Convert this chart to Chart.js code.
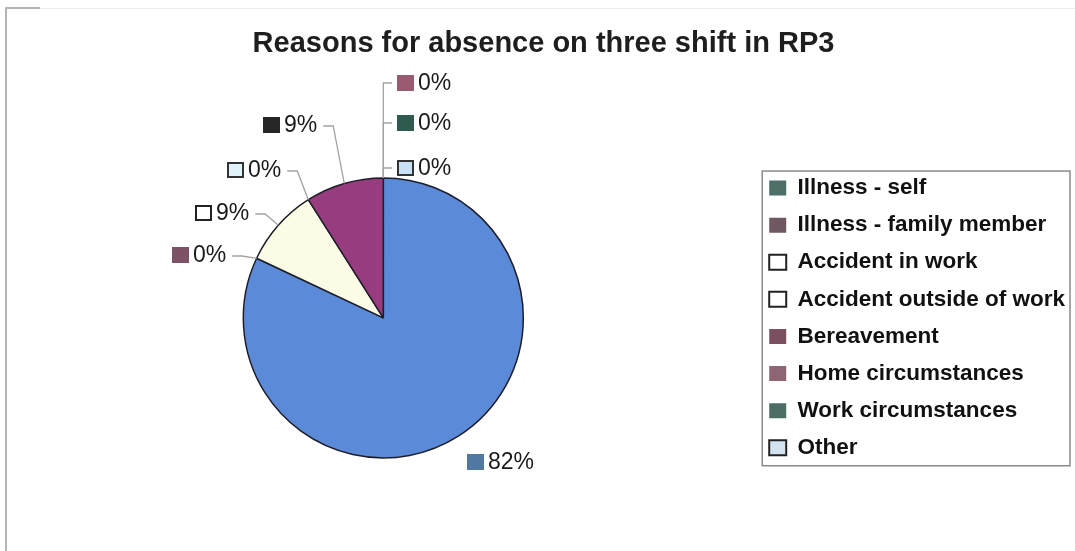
<!DOCTYPE html>
<html>
<head>
<meta charset="utf-8">
<title>Reasons for absence on three shift in RP3</title>
<script src="https://cdn.jsdelivr.net/npm/chart.js@4.4.1/dist/chart.umd.min.js"></script>
<style>
  html, body { margin: 0; padding: 0; background: #fff; }
  #wrap { width: 1075px; height: 551px; position: relative; }
</style>
</head>
<body>
<div id="wrap"><canvas id="absenceChart"></canvas></div>
<script>
/* ===== data ===== */
const reasons = ['Illness - self', 'Illness - family member', 'Accident in work', 'Accident outside of work',
                 'Bereavement', 'Home circumstances', 'Work circumstances', 'Other'];
const shares = [82, 0, 9, 0, 9, 0, 0, 0];   // % of absences

/* ===== styles ===== */
const FONT = 'Arial, "Liberation Sans", sans-serif';
const sliceColors = ['#5b8bd8', '#8e4a73', '#fbfbe6', '#e4f4f8', '#983c80', '#a05a78', '#2e5c52', '#c9def5'];
// legend swatches
const legendFill = ['#4c7068', '#6f5862', '#ffffff', '#ffffff', '#7b4f60', '#8d6575', '#4d6e67', '#d3e3f0'];
const legendEdge = [null, null, '#222', '#222', null, null, null, '#222'];
// swatches in front of the % tags
const tagFill = ['#4f79a0', '#7e5266', '#ffffff', '#e0f3f6', '#262626', '#9a5a72', '#2f5a50', '#cbe1f7'];
const tagEdge = [null, null, '#222', '#333', null, null, null, '#333'];
// tag anchor (swatch left, middle) relative to the pie centre, and which side the leader runs
const tagSpots = [[84, 144], [-211, -63], [-188, -105], [-156, -148], [-120, -193], [14, -235], [14, -195], [14, -150]];
const tagSide  = ['none', 'left', 'left', 'left', 'left', 'right', 'right', 'right'];

/* ===== plugins ===== */
const pageFrame = {
  id: 'pageFrame',
  beforeDraw(chart) {
    const {ctx, width, height} = chart;
    ctx.save();
    ctx.fillStyle = '#fff';
    ctx.fillRect(0, 0, width, height);
    ctx.strokeStyle = '#b4b4b4';
    ctx.lineWidth = 2;
    ctx.beginPath();
    ctx.moveTo(6, height); ctx.lineTo(6, 8); ctx.lineTo(40, 8);
    ctx.stroke();
    ctx.strokeStyle = '#ececec';
    ctx.lineWidth = 1;
    ctx.beginPath();
    ctx.moveTo(40, 8.5); ctx.lineTo(width, 8.5);
    ctx.stroke();
    ctx.restore();
  }
};

const pieTags = {
  id: 'pieTags',
  afterDatasetsDraw(chart) {
    const {ctx} = chart;
    const arcs = chart.getDatasetMeta(0).data;
    const total = shares.reduce((a, b) => a + b, 0);
    ctx.save();
    ctx.font = '23px ' + FONT;
    ctx.textBaseline = 'middle';
    arcs.forEach((arc, i) => {
      const {x, y, startAngle, endAngle, outerRadius} =
        arc.getProps(['x', 'y', 'startAngle', 'endAngle', 'outerRadius'], true);
      const mid = (startAngle + endAngle) / 2;
      const ex = x + Math.cos(mid) * outerRadius;
      const ey = y + Math.sin(mid) * outerRadius;
      const mx = Math.round(x + tagSpots[i][0]);
      const my = Math.round(y + tagSpots[i][1]);
      const text = Math.round(shares[i] / total * 100) + '%';
      const tw = ctx.measureText(text).width;

      // leader line
      ctx.strokeStyle = '#a3a3a3';
      ctx.lineWidth = 1.3;
      if (tagSide[i] === 'left') {
        const sx = mx + 21 + tw + 6;
        ctx.beginPath();
        ctx.moveTo(sx, my + 1); ctx.lineTo(sx + 10, my + 1); ctx.lineTo(ex, ey);
        ctx.stroke();
      } else if (tagSide[i] === 'right') {
        ctx.beginPath();
        ctx.moveTo(mx - 5, my); ctx.lineTo(ex, my); ctx.lineTo(ex, ey);
        ctx.stroke();
      }

      // swatch
      ctx.fillStyle = tagFill[i];
      ctx.fillRect(mx, my - 8, 17, 16);
      if (tagEdge[i]) {
        ctx.strokeStyle = tagEdge[i];
        ctx.lineWidth = 2;
        ctx.strokeRect(mx + 1, my - 7, 15, 14);
      }
      ctx.fillStyle = '#1a1a1a';
      ctx.fillText(text, mx + 21, my + 1);
    });
    ctx.restore();
  }
};

const legendFrame = {
  id: 'legendFrame',
  afterDraw(chart) {
    const boxes = chart.legend && chart.legend.legendHitBoxes;
    if (!boxes || !boxes.length) return;
    const first = boxes[0], last = boxes[boxes.length - 1];
    const top = first.top + first.height / 2 - 17;
    const bottom = last.top + last.height / 2 + 18;
    const left = first.left - 7;
    const right = chart.width - 5;
    const {ctx} = chart;
    ctx.save();
    ctx.strokeStyle = '#8a8a8a';
    ctx.lineWidth = 1.5;
    ctx.strokeRect(left, top, right - left, bottom - top);
    ctx.restore();
  }
};

/* ===== chart ===== */
const ctx = document.getElementById('absenceChart').getContext('2d');
new Chart(ctx, {
  type: 'pie',
  data: {
    labels: reasons,
    datasets: [{
      data: shares,
      backgroundColor: sliceColors,
      borderColor: '#1e1e2a',
      borderWidth: 1.5
    }]
  },
  options: {
    responsive: true,
    maintainAspectRatio: false,
    animation: false,
    radius: 140,
    layout: { padding: { left: 12, right: 0, top: 0, bottom: 15 } },
    plugins: {
      title: {
        display: true,
        text: 'Reasons for absence on three shift in RP3',
        color: '#1e1e1e',
        font: { family: FONT, size: 29, weight: 'bold' },
        padding: { top: 27, bottom: 38 }
      },
      legend: {
        position: 'right',
        align: 'center',
        fullSize: false,
        labels: {
          boxWidth: 17,
          boxHeight: 15,
          padding: 14.6,
          color: '#111',
          font: { family: FONT, size: 22.5, weight: 'bold' },
          generateLabels() {
            return reasons.map((r, i) => ({
              text: r,
              fillStyle: legendFill[i],
              strokeStyle: legendEdge[i] || legendFill[i],
              lineWidth: legendEdge[i] ? 2 : 0,
              fontColor: '#111',
              hidden: false,
              index: i
            }));
          }
        }
      },
      tooltip: { enabled: false }
    }
  },
  plugins: [pageFrame, pieTags, legendFrame]
});
</script>
</body>
</html>
